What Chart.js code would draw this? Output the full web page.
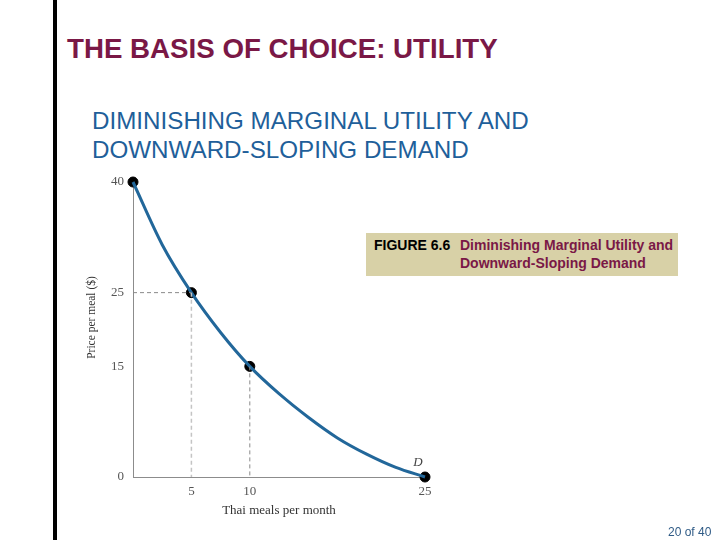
<!DOCTYPE html>
<html>
<head>
<meta charset="utf-8">
<script src="https://cdn.jsdelivr.net/npm/chart.js@4"></script>
<style>
  html, body { margin: 0; padding: 0; background: #fff; }
  #page { position: relative; width: 720px; height: 540px; overflow: hidden; }
  #bar { position: absolute; left: 53px; top: 0; width: 4px; height: 540px; background: #000; }
  #title { position: absolute; left: 67px; top: 33px; font: bold 27.7px "Liberation Sans", Arial, sans-serif; color: #7a1846; white-space: nowrap; }
  #subtitle { position: absolute; left: 92px; top: 106px; font: 24.2px/29px "Liberation Sans", Arial, sans-serif; color: #1f5f9a; white-space: nowrap; }
  #caption { position: absolute; left: 366px; top: 233px; width: 312px; height: 43px; background: #d8d1a7;
    font: bold 14px/18px "Liberation Sans", Arial, sans-serif; }
  #caption .fig { position: absolute; left: 8px; top: 3px; color: #000; }
  #caption .txt { position: absolute; left: 94px; top: 3px; color: #7a1846; white-space: nowrap; }
  #pager { position: absolute; left: 668px; top: 525px; font: 12px "Liberation Sans", Arial, sans-serif; color: #2f5b86; }
  #wrap { position: absolute; left: 0; top: 0; width: 720px; height: 540px; }
</style>
</head>
<body>
<div id="page">
  <div id="bar"></div>
  <div id="title">THE BASIS OF CHOICE: UTILITY</div>
  <div id="subtitle">DIMINISHING MARGINAL UTILITY AND<br>DOWNWARD-SLOPING DEMAND</div>
  <div id="wrap"><canvas id="chart" width="720" height="540"></canvas></div>
  <div id="caption">
    <span class="fig">FIGURE 6.6</span>
    <span class="txt">Diminishing Marginal Utility and<br>Downward-Sloping Demand</span>
  </div>
  <div id="pager">20 of 40</div>
</div>
<script>
// demand curve
const curveMeals = [0, 2.5, 5, 7.5, 10, 12.5, 15, 17.5, 20, 22.5, 25];
const curvePrice = [40, 31.5, 25, 19.6, 15, 11.3, 8.1, 5.3, 3.1, 1.3, 0];

// marked points
const pointMeals = [0, 5, 10, 25];
const pointPrice = [40, 25, 15, 0];

const xTicks = [5, 10, 25];
const yTicks = [0, 15, 25, 40];

const serif = "'Liberation Serif', 'Times New Roman', serif";
const guideDark = "#8a8a8a";
const guideLight = "#c4c4c4";

function pts(xs, ys) {
  return xs.map((x, i) => ({ x, y: ys[i] }));
}

// "D" next to the end of the curve + the y axis title (sits a bit above centre)
const extraText = {
  id: "extraText",
  afterDatasetsDraw(chart) {
    const { ctx, scales, chartArea } = chart;
    const i = curveMeals.length - 1;
    const x = scales.x.getPixelForValue(curveMeals[i]);
    const y = scales.y.getPixelForValue(curvePrice[i]);
    ctx.save();
    ctx.font = `italic 13px ${serif}`;
    ctx.fillStyle = "#444";
    ctx.textAlign = "center";
    ctx.textBaseline = "middle";
    ctx.fillText("D", x - 7, y - 14);

    ctx.translate(chartArea.left - 41, (chartArea.top + chartArea.bottom) / 2 - 12);
    ctx.rotate(-Math.PI / 2);
    ctx.font = `11.5px ${serif}`;
    ctx.fillStyle = "#333";
    ctx.fillText("Price per meal ($)", 0, 0);
    ctx.restore();
  }
};

new Chart(document.getElementById("chart"), {
  type: "scatter",
  data: {
    datasets: [
      {
        // horizontal guide at 25
        type: "line",
        data: pts([0, pointMeals[1]], [pointPrice[1], pointPrice[1]]),
        borderColor: guideDark,
        borderWidth: 1,
        borderDash: [4, 3],
        pointRadius: 0,
      },
      {
        type: "line",
        data: pts([pointMeals[1], pointMeals[1]], [pointPrice[1], 0]),
        borderColor: guideLight,
        borderWidth: 1.5,
        borderDash: [4, 3],
        pointRadius: 0,
      },
      {
        type: "line",
        data: pts([pointMeals[2], pointMeals[2]], [pointPrice[2], 0]),
        borderColor: guideDark,
        borderWidth: 1,
        borderDash: [4, 3],
        pointRadius: 0,
      },
      {
        type: "line",
        data: pts(curveMeals, curvePrice),
        borderColor: "#22679a",
        borderWidth: 3,
        cubicInterpolationMode: "monotone",
        pointRadius: 0,
        clip: false,
      },
      {
        data: pts(pointMeals, pointPrice),
        backgroundColor: "#000",
        borderColor: "#000",
        pointRadius: 5,
        clip: false,
      },
    ]
  },
  options: {
    responsive: false,
    animation: false,
    layout: { padding: { left: 78, top: 182, right: 295, bottom: 13 } },
    plugins: {
      legend: { display: false },
      tooltip: { enabled: false },
    },
    scales: {
      x: {
        type: "linear",
        min: 0,
        max: 25,
        afterBuildTicks: (s) => { s.ticks = xTicks.map(v => ({ value: v })); },
        afterFit: (s) => { s.height = 50; },
        grid: { display: false, drawTicks: false },
        border: { display: true, color: "#8c8c8c", width: 1 },
        ticks: { padding: 7, color: "#555", font: { family: serif, size: 13 } },
        title: { display: true, text: "Thai meals per month", color: "#333",
                 font: { family: serif, size: 13 }, padding: { top: 0, bottom: 9 } },
      },
      y: {
        type: "linear",
        min: 0,
        max: 40,
        afterBuildTicks: (s) => { s.ticks = yTicks.map(v => ({ value: v })); },
        afterFit: (s) => { s.width = 55; },
        grid: { display: false, drawTicks: false },
        border: { display: true, color: "#8c8c8c", width: 1 },
        ticks: { padding: 9, color: "#555", font: { family: serif, size: 13 } },
      }
    }
  },
  plugins: [extraText]
});
</script>
</body>
</html>
